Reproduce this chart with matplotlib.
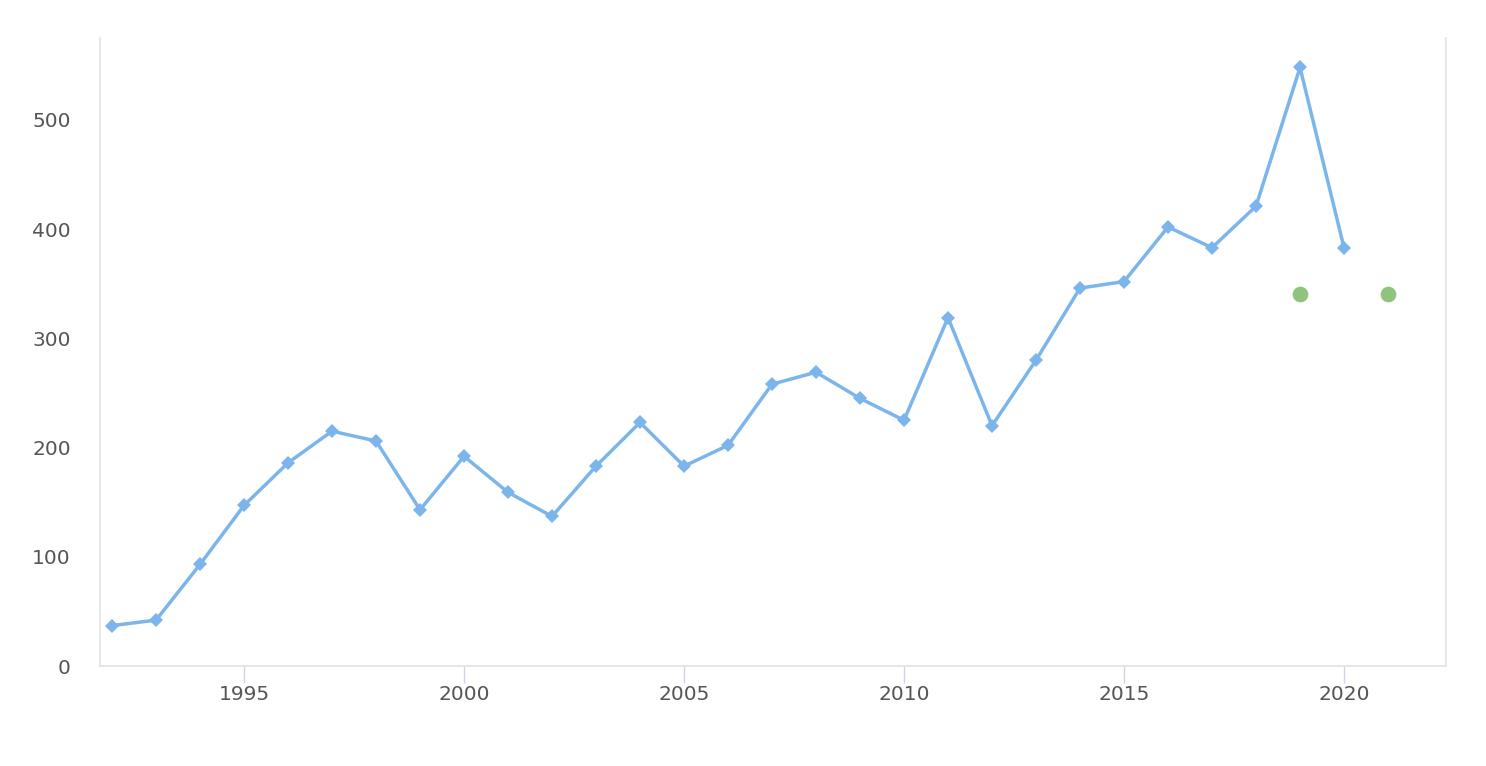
import matplotlib
matplotlib.use("Agg")
import matplotlib.pyplot as plt

# ---------- data ----------
years = list(range(1992, 2021))
counts = [37, 42, 93, 147, 186, 215, 206, 143, 192, 159, 137, 183, 223, 183,
          202, 258, 269, 245, 225, 319, 220, 280, 346, 352, 402, 383, 421,
          548, 383]

marker_years = [2019, 2021]
marker_values = [341, 341]

xticks = [1995, 2000, 2005, 2010, 2015, 2020]
yticks = [0, 100, 200, 300, 400, 500]

# ---------- styling ----------
BLUE = "#7cb5ec"
GREEN = "#8fc47c"
GRID = "#e6e6e6"
TEXT = "#555555"

fig = plt.figure(figsize=(14.86, 7.66), dpi=100)
ax = fig.add_axes([100 / 1486, 100 / 766, 1346 / 1486, 628 / 766])

ax.plot(years, counts, color=BLUE, linewidth=2.5, marker="D",
        markersize=7.6, markeredgewidth=0, zorder=3)
ax.plot(marker_years, marker_values, linestyle="none", marker="o",
        color=GREEN, markersize=11.3, markeredgewidth=0, zorder=4)

ax.set_xlim(1991.727, 2022.318)
ax.set_ylim(0, 575)

ax.set_xticks(xticks)
ax.set_yticks(yticks)
ax.tick_params(axis="x", length=12, width=1.0, color="#ccd6eb",
               pad=2, labelsize=14.5, labelcolor=TEXT)
ax.tick_params(axis="y", length=0, pad=21, labelsize=14.5, labelcolor=TEXT)

for side in ("left", "right", "bottom"):
    ax.spines[side].set_color(GRID)
    ax.spines[side].set_linewidth(1.4)
ax.spines["top"].set_visible(False)

fig.savefig("out.png", dpi=100, facecolor="white")
